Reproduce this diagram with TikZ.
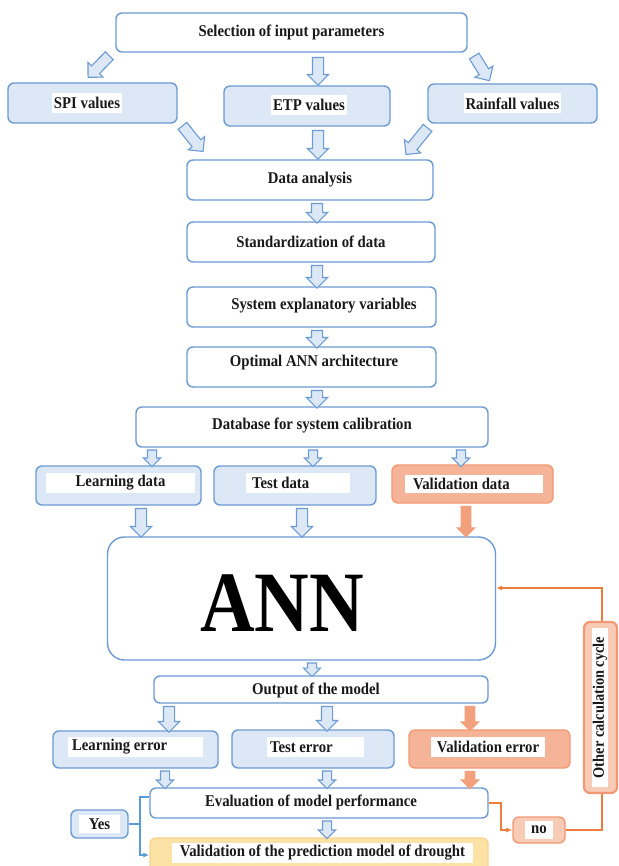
\documentclass[tikz,border=0pt]{standalone}
\usepackage{fontspec}
\setmainfont{Liberation Serif}[FakeStretch=0.9]
\newfontfamily\annfont{Liberation Serif}[FakeStretch=0.88]
\usetikzlibrary{calc,shapes.arrows,arrows.meta}
\definecolor{bblue}{RGB}{108,155,212}
\definecolor{lblue}{RGB}{220,232,246}
\definecolor{oborder}{RGB}{242,152,115}
\definecolor{ofill}{RGB}{245,180,152}
\definecolor{oarr}{RGB}{243,160,124}
\definecolor{oline}{RGB}{237,125,59}
\definecolor{bline}{RGB}{91,155,213}
\definecolor{yfill}{RGB}{253,226,166}
\definecolor{yborder}{RGB}{251,212,140}
\definecolor{txt}{RGB}{25,25,25}
\newcommand\barr[3][harrow]{\path let \p1=#2, \p2=#3, \n1={atan2(\y2-\y1,\x2-\x1)}, \n2={veclen(\x2-\x1,\y2-\y1)} in node[#1, minimum height=\n2, rotate=\n1] at ($(\p1)!0.5!(\p2)$) {};}
\begin{document}
\begin{tikzpicture}[x=1pt,y=-1pt,
  every node/.style={font=\fontsize{16.4}{18}\selectfont\bfseries, text=txt},
  bx/.style={draw=bblue, line width=1.4pt, rounded corners=6pt, fill=white, inner sep=0pt},
  lb/.style={bx, fill=lblue},
  ob/.style={bx, draw=oborder, fill=ofill},
  wt/.style={fill=white, inner sep=0pt, inner xsep=2pt, minimum height=20pt},
  lt/.style={anchor=west, inner sep=0pt},
  harrow/.style={single arrow, draw=bblue, fill=lblue, line width=1.1pt, inner sep=5pt, single arrow head extend=5pt, minimum width=0pt, single arrow head indent=0pt},
  sarrow/.style={harrow, inner sep=4pt, single arrow head extend=4pt},
  oarrow/.style={single arrow, draw=oarr, fill=oarr, line width=0.8pt, inner sep=4.5pt, single arrow head extend=4pt, minimum width=0pt, single arrow head indent=0pt},
  bl/.style={draw=bline, line width=1.6pt},
  ol/.style={draw=oline, line width=1.6pt},
  tip/.style={-{Latex[length=6pt,width=5pt]}}]
\fill[white] (0,0) rectangle (618,866);
\useasboundingbox (0,0) rectangle (618,866);
% boxes
\node[bx, minimum width=351, minimum height=39] (sel) at (291.5,32.5) {Selection of input parameters};
\node[lb, minimum width=169, minimum height=40] (spi) at (92.5,103) {};
\node[wt] (spit) at (87,103) {SPI values};
\node[lb, minimum width=166, minimum height=40] (etp) at (307,106) {};
\node[wt] (etpt) at (309,105) {ETP values};
\node[lb, minimum width=169, minimum height=39] (rain) at (512.5,103.5) {};
\node[wt] (raint) at (512.5,103.5) {Rainfall values};
\node[bx, minimum width=246, minimum height=40] (da) at (310,180) {Data analysis};
\node[bx, minimum width=248, minimum height=40] (std) at (311,242) {Standardization of data};
\node[bx, minimum width=249, minimum height=40] (sev) at (311.5,307) {};
\node (sevt) at (324,306) {System explanatory variables};
\node[bx, minimum width=249, minimum height=40] (opt) at (311.5,367) {};
\node (optt) at (314,363) {Optimal ANN architecture};
\node[bx, minimum width=352, minimum height=40] (db) at (312,427) {};
\node (dbt) at (312,425) {Database for system calibration};
\node[lb, minimum width=165, minimum height=39] (ld) at (118.5,485.5) {};
\node[wt, minimum width=149pt] (ldt) at (120.5,483) {Learning data};
\node[lb, minimum width=162, minimum height=39] (td) at (295,485.5) {};
\node[wt, minimum width=104pt] (tdr) at (298,483) {};
\node[lt] (tdt) at ($(tdr.west)+(6,0)$) {Test data};
\node[ob, minimum width=161, minimum height=38] (vd) at (472.5,484) {};
\node[wt, minimum width=138pt, minimum height=18pt] (vdr) at (474,483.5) {};
\node[lt] (vdt) at ($(vdr.west)+(8,0)$) {Validation data};
\node[bx, rounded corners=17pt, minimum width=388, minimum height=123] (ann) at (301.5,598.5) {};
\node[font=\annfont\fontsize{86}{86}\selectfont\bfseries, text=black] (annt) at (282,603) {ANN};
\node[bx, minimum width=334, minimum height=27] (out) at (321,689.5) {};
\node (outt) at (316,690) {Output of the model};
\node[lb, minimum width=165, minimum height=37] (le) at (135.5,749.5) {};
\node[wt, minimum width=135pt] (ler) at (135.5,747) {};
\node[lt] (let) at ($(ler.west)+(4,0)$) {Learning error};
\node[lb, minimum width=162, minimum height=38] (te) at (313,749) {};
\node[wt, minimum width=97pt] (ter) at (315.5,747) {};
\node[lt] (tet) at ($(ter.west)+(3,0)$) {Test error};
\node[ob, minimum width=161, minimum height=38] (ve) at (489.5,749) {};
\node[wt, minimum width=114pt] (vet) at (488,747) {Validation error};
\node[bx, minimum width=338, minimum height=30] (ev) at (319,803) {};
\node (evt) at (311,802) {Evaluation of model performance};
\node[bx, draw=yborder, fill=yfill, minimum width=338, minimum height=37] (vp) at (319,856.5) {};
\node[wt, minimum width=301pt] (vpt) at (322.5,853) {Validation of the prediction model of drought};
\node[lb, minimum width=57, minimum height=28] (yes) at (99.5,824) {};
\node[wt, minimum width=41pt, minimum height=18pt] (yest) at (99.5,824) {Yes};
\node[ob, fill=ofill!70, minimum width=52, minimum height=26] (no) at (539,830) {};
\node[wt, minimum width=28pt, minimum height=18pt, inner xsep=1pt] (not) at (539,830) {no};
\node[ob, line width=2.2pt, fill=ofill!70, minimum width=33, minimum height=171] (occ) at (600.5,707.5) {};
\node[wt, rotate=90, minimum width=159pt, minimum height=16pt, inner xsep=0pt, font=\fontsize{16}{17}\selectfont\bfseries] (occt) at (600,707.5) {Other calculation cycle};
% block arrows
\barr{($(sel.south west)+(-4,1)$)}{($(spi.north)+(-2.5,-7)$)}
\barr{($(sel.south)+(26.5,2)$)}{($(etp.north)+(11,-3)$)}
\barr{($(sel.south east)+(5,1)$)}{($(rain.north)+(-24.5,-5)$)}
\barr{($(spi.south east)+(3,0)$)}{($(da.north west)+(15,-10)$)}
\barr{($(etp.south)+(11,1)$)}{($(da.north)+(8,-3)$)}
\barr{($(rain.south west)+(2,2)$)}{($(da.north east)+(-26,-7)$)}
\barr{($(da.south)+(7,0)$)}{($(std.north)+(6,-1)$)}
\barr{($(std.south)+(6,0)$)}{($(sev.north)+(5.5,-1)$)}
\barr{($(sev.south)+(5.5,0)$)}{($(opt.north)+(5.5,-1)$)}
\barr{($(opt.south)+(5.5,0)$)}{($(db.north)+(5,-1)$)}
\barr[sarrow]{($(db.south)+(-160,0)$)}{($(ld.north)+(33.5,-1)$)}
\barr[sarrow]{($(db.south)+(1,0)$)}{($(td.north)+(18,-1)$)}
\barr[sarrow]{($(db.south)+(149,0)$)}{($(vd.north)+(-11.5,0)$)}
\barr{($(ld.south)+(22.5,0)$)}{($(ann.north)+(-160.5,-2)$)}
\barr{($(td.south)+(7,0)$)}{($(ann.north)+(0.5,-2)$)}
\barr[oarrow]{($(vd.south)+(-6.5,0)$)}{($(ann.north)+(164.5,-2)$)}
\barr[sarrow]{($(ann.south)+(10.5,0)$)}{($(out.north)+(-9,-1)$)}
\barr{($(out.south)+(-152,0)$)}{($(le.north)+(33.5,-1)$)}
\barr{($(out.south)+(6,0)$)}{($(te.north)+(14,-1)$)}
\barr[oarrow]{($(out.south)+(149,0)$)}{($(ve.north)+(-19.5,-1)$)}
\barr[sarrow]{($(le.south)+(29.5,0)$)}{($(ev.north)+(-154,-1)$)}
\barr[sarrow]{($(te.south)+(14,0)$)}{($(ev.north)+(8,-1)$)}
\barr[oarrow]{($(ve.south)+(-19.5,0)$)}{($(ev.north)+(151,-1)$)}
\barr[sarrow]{($(ev.south)+(8,0)$)}{($(vp.north)+(8,-1)$)}
% connectors
\coordinate (yj) at ($(yes.east)+(11,0)$);
\draw[bl] (yes.east) -- (yj) |- ($(ev.west)+(0,-6)$);
\draw[bl, tip] (yj) |- ($(vp.west)+(0,-1.5)$);
\coordinate (nj) at ($(ev.east)+(12,0)$);
\draw[ol, tip] (ev.east) -- (nj) |- (no.west);
\draw[ol] (no.east) -| ($(occ.south)+(1.5,0)$);
\draw[ol, tip] ($(occ.north)+(1.5,0)$) |- ($(ann.east)+(0,-10.5)$);
\end{tikzpicture}
\end{document}
